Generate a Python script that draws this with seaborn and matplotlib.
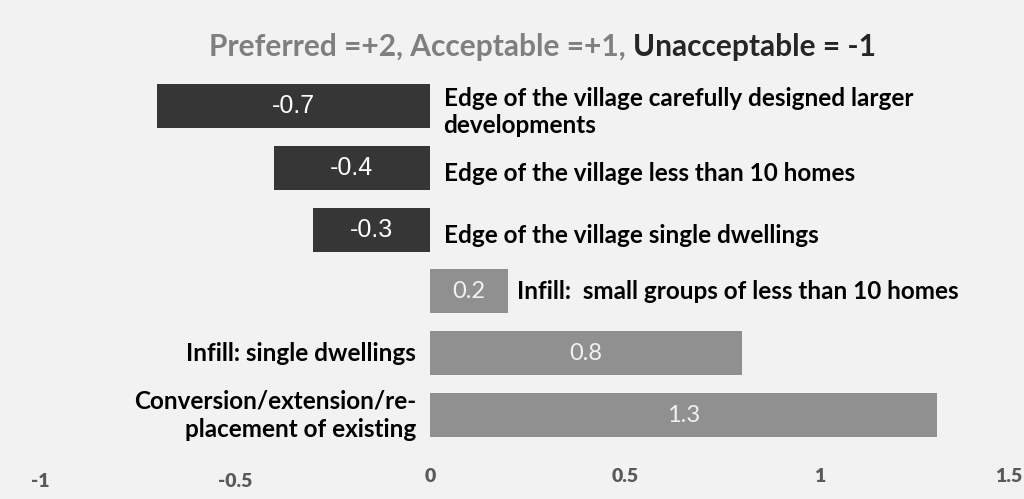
import matplotlib
matplotlib.use("Agg")
import pandas as pd
import seaborn as sns
import matplotlib.pyplot as plt
from matplotlib.transforms import ScaledTranslation

categories = [
    "Edge of the village carefully designed larger\ndevelopments",
    "Edge of the village less than 10 homes",
    "Edge of the village single dwellings",
    "Infill:  small groups of less than 10 homes",
    "Infill: single dwellings",
    "Conversion/extension/re-\nplacement of existing",
]
values = [-0.7, -0.4, -0.3, 0.2, 0.8, 1.3]
tick_vals = [-1, -0.5, 0, 0.5, 1, 1.5]
tick_labels = ["-1", "-0.5", "0", "0.5", "1", "1.5"]

bg = "#f2f2f2"
dark = "#363636"
light = "#909090"
fonts = ["Lato", "DejaVu Sans"]

sns.set_theme(style="white")
plt.rcParams["font.family"] = fonts

df = pd.DataFrame({"item": categories, "score": values})
colors = [dark if v < 0 else light for v in values]

fig = plt.figure(figsize=(10.24, 4.99), dpi=100, facecolor=bg)
ax = fig.add_axes([0.039, 0.106, 0.952, 0.744])
ax.set_facecolor(bg)

sns.barplot(data=df, x="score", y="item", hue="item", palette=colors,
            legend=False, width=0.71, ax=ax, orient="h", linewidth=0)

ax.set_xlim(-1, 1.5)
ax.set_ylim(5.5, -0.5)
ax.set_xticks(tick_vals)
ax.set_xticklabels(tick_labels)
ax.tick_params(axis="x", length=0, pad=16)
ax.set_yticks([])
ax.set_xlabel("")
ax.set_ylabel("")
for s in ax.spines.values():
    s.set_visible(False)

xt = ax.get_xticklabels()
plt.setp(xt, fontsize=14, fontweight="heavy", color="#595959")
# Excel-style staggered tick labels
for lbl in xt[:2]:
    lbl.set_transform(lbl.get_transform() + ScaledTranslation(0, -5 / 100, fig.dpi_scale_trans))
xt[-1].set_transform(xt[-1].get_transform() + ScaledTranslation(-6 / 100, 0, fig.dpi_scale_trans))

for i, (cat, v) in enumerate(zip(categories, values)):
    # value inside the bar
    if v < 0:
        ax.text(v / 2, i, f"{v:.1f}", ha="center", va="center", color="white",
                fontsize=18, family="Liberation Sans")
    else:
        ax.text(v / 2, i, f"{v:.1f}", ha="center", va="center", color="#f2f2f2",
                fontsize=17)
    # category label
    if v < 0:
        ax.text(0.035, i + 0.1, cat, ha="left", va="center", fontsize=17.5,
                fontweight="bold", color="black", linespacing=1.25)
    elif v < 0.5:
        ax.text(v + 0.023, i, cat, ha="left", va="center", fontsize=17.5,
                fontweight="bold", color="black")
    else:
        ax.text(-0.035, i, cat, ha="right", va="center", fontsize=17.5,
                fontweight="bold", color="black", multialignment="right",
                linespacing=1.25)

fig.text(0.611, 0.906, "Preferred =+2, Acceptable =+1,", ha="right", va="center",
         fontsize=21.5, fontweight="bold", color="#7f7f7f")
fig.text(0.618, 0.906, "Unacceptable = -1", ha="left", va="center",
         fontsize=21.5, fontweight="bold", color="#262626")

fig.savefig("out.png", dpi=100, facecolor=bg)
